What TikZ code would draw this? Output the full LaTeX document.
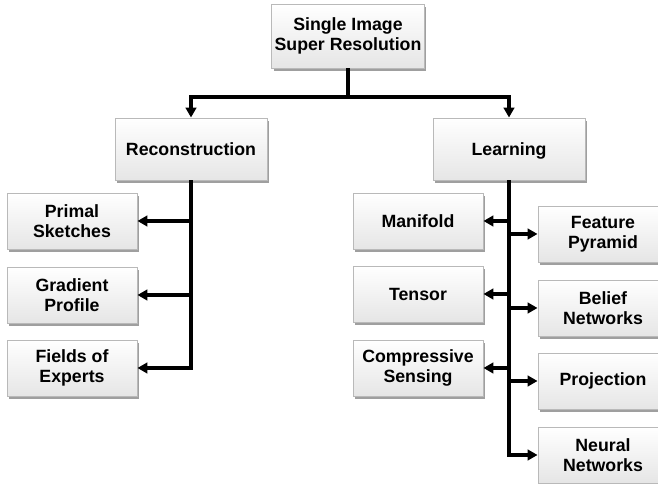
\documentclass[tikz,border=0pt]{standalone}
\usepackage{fontspec}
\setmainfont{Liberation Sans}
\usetikzlibrary{arrows.meta,shadows}
\begin{document}
\begin{tikzpicture}[x=0.75pt,y=-0.75pt,
  box/.style={draw=gray!55, line width=0.7pt, top color=white, bottom color=gray!20,
    general shadow={fill=gray!75, shadow xshift=1.6pt, shadow yshift=-2.2pt},
    align=center, font=\bfseries\fontsize{13.3}{15.3}\selectfont, inner sep=2pt},
  bigbox/.style={box, minimum width=114pt, minimum height=46.5pt},
  smallbox/.style={box, minimum width=97.5pt, minimum height=42pt},
  conn/.style={line width=2.6pt, line cap=butt},
  arr/.style={conn, -{Triangle[length=7.5pt,width=8pt]}}]
\path[use as bounding box, clip] (0,0) rectangle (658,484);
\fill[white] (0,0) rectangle (658,484);
\node[box, minimum width=113.25pt, minimum height=48pt] (top) at (348,36) {Single Image\\Super Resolution};
\node[bigbox] (recon) at (191,149) {Reconstruction};
\node[bigbox, text depth=0pt] (learn) at (509,149) {Learning};
\node[smallbox] (primal) at (72,221) {Primal\\Sketches};
\node[smallbox] (grad) at (72,295) {Gradient\\Profile};
\node[smallbox] (fields) at (72,368) {Fields of\\Experts};
\node[smallbox] (mani) at (418,221) {Manifold};
\node[smallbox] (tensor) at (418,294) {Tensor};
\node[smallbox] (comp) at (418,368) {Compressive\\Sensing};
\node[smallbox] (feat) at (603,234) {Feature\\Pyramid};
\node[smallbox] (belief) at (603,308) {Belief\\Networks};
\node[smallbox] (proj) at (603,381) {Projection};
\node[smallbox] (neural) at (603,455) {Neural\\Networks};
\coordinate (bar) at (348,97);
\draw[conn] (top.south) -- (bar);
\draw[arr] (bar) -| (recon.north);
\draw[arr] (bar) -| (learn.north);
\draw[arr] (recon.south) |- (fields.east);
\draw[arr] (recon.south |- primal.east) -- (primal.east);
\draw[arr] (recon.south |- grad.east) -- (grad.east);
\draw[arr] (learn.south) |- (neural.west);
\draw[arr] (learn.south |- mani.east) -- (mani.east);
\draw[arr] (learn.south |- tensor.east) -- (tensor.east);
\draw[arr] (learn.south |- comp.east) -- (comp.east);
\draw[arr] (learn.south |- feat.west) -- (feat.west);
\draw[arr] (learn.south |- belief.west) -- (belief.west);
\draw[arr] (learn.south |- proj.west) -- (proj.west);
\end{tikzpicture}
\end{document}
